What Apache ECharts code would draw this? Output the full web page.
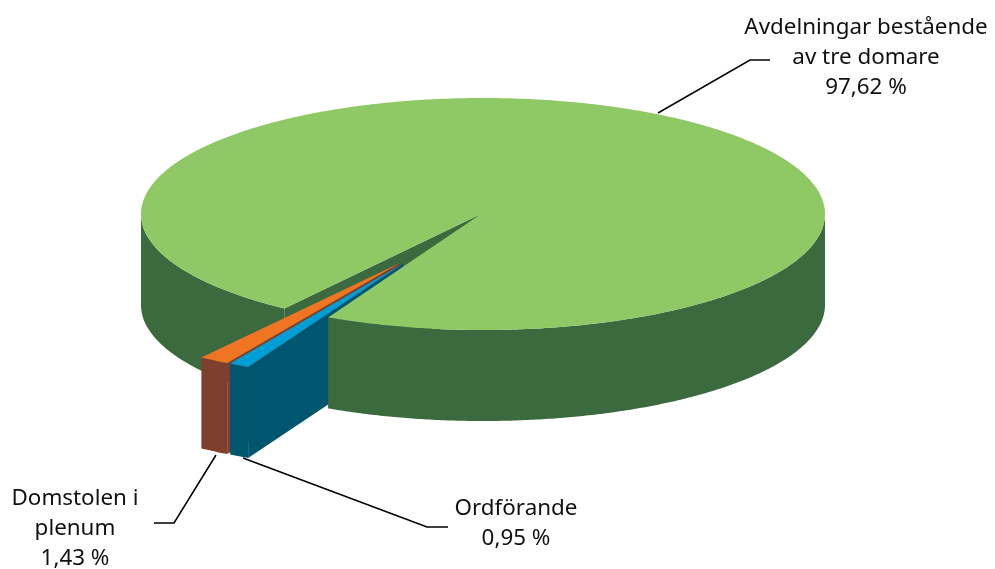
<!DOCTYPE html>
<html>
<head>
<meta charset="utf-8">
<style>html,body{margin:0;padding:0;background:#fff}#c{width:995px;height:569px}</style>
<script src="https://cdn.jsdelivr.net/npm/echarts@6/dist/echarts.min.js"></script>
</head>
<body>
<div id="c"></div>
<script>
// Data
const sliceNames = ['Avdelningar bestående\nav tre domare', 'Ordförande', 'Domstolen i\nplenum'];
const sliceValues = [97.62, 0.95, 1.43];
// Style
const topColors = ['#8fc965', '#009ed6', '#f07522'];
const sideColors = ['#3b6a3f', '#00556f', '#7e3f2c'];
const explodeOffsets = [[0, 0], [-80, 49.5], [-83, 49]];
const apexShift = [-2, 0, 0];
const wallLayer = [1, 7, 5];
const labelCentres = [[866, 28], [516, 509], [75, 499]];
const leaders = [
  [[658, 113], [750, 60], [770, 60]],
  [[243, 458], [427, 527], [448, 527]],
  [[216, 455], [174, 523], [154, 523]]
];
// Pie geometry
const CX = 483, CY = 214, RX = 342, RY = 116, DEPTH = 91, START = 125.5;
const FONT = '"Noto Sans", "Open Sans", sans-serif';

const total = sliceValues.reduce((a, b) => a + b, 0);
const starts = [];
sliceValues.reduce((acc, v, i) => { starts[i] = acc; return acc + v / total * 360; }, START);

function pt(deg, off, drop) {
  const r = deg * Math.PI / 180;
  return [CX + off[0] + RX * Math.cos(r), CY + off[1] + RY * Math.sin(r) + (drop || 0)];
}
function arc(a0, a1, off, drop) {
  const out = [], n = Math.max(2, Math.ceil((a1 - a0) * 2));
  for (let i = 0; i <= n; i++) out.push(pt(a0 + (a1 - a0) * i / n, off, drop));
  return out;
}
function wallPiece(a0, a1, off, fill, z2) {
  const top = arc(a0, a1, off, 0), bottom = arc(a0, a1, off, DEPTH).reverse();
  return { type: 'polygon', z2, shape: { points: top.concat(bottom) }, style: { fill }, silent: true };
}
function renderSlice(params, api) {
  const i = params.dataIndex;
  const sweep = api.value(0) / total * 360;
  const a0 = starts[i], a1 = a0 + sweep;
  const off = explodeOffsets[i], side = sideColors[i], layer = wallLayer[i];
  const apex = [CX + off[0] + apexShift[i], CY + off[1]];
  const startEdge = pt(a0, off, 0);
  const children = [];
  // the cut face at the start of the slice
  children.push({
    type: 'polygon', z2: layer,
    shape: { points: [apex, startEdge, [startEdge[0], startEdge[1] + DEPTH], [apex[0], apex[1] + DEPTH]] },
    style: { fill: side }, silent: true
  });
  // the outer rim, only where it faces the viewer (sine of angle > 0);
  // the part right of the gap hides the small slices, the part left of it lies behind them
  for (let k = 0; k < 3; k++) {
    const lo = Math.max(a0, k * 360), hi = Math.min(a1, k * 360 + 180);
    if (hi > lo) children.push(wallPiece(lo, hi, off, side, i === 0 ? (k === 0 ? 0 : 20) : layer));
  }
  // top face
  children.push({
    type: 'polygon', z2: i === 0 ? 21 : layer + 1,
    shape: { points: [apex].concat(arc(a0, a1, off, 0)) },
    style: { fill: topColors[i] }, silent: true
  });
  return { type: 'group', children };
}

const chart = echarts.init(document.getElementById('c'), null, { renderer: 'canvas' });
const graphics = [];
leaders.forEach(points => graphics.push({
  type: 'polyline', z: 30, shape: { points },
  style: { stroke: '#000', lineWidth: 1.5, fill: null }, silent: true
}));
sliceNames.forEach((name, i) => graphics.push({
  type: 'text', z: 30, x: labelCentres[i][0], y: labelCentres[i][1] - 15, silent: true,
  style: {
    text: name + '\n' + sliceValues[i].toFixed(2).replace('.', ',') + ' %',
    font: '22.4px ' + FONT, fill: '#111', align: 'center', verticalAlign: 'top', lineHeight: 30
  }
}));

chart.setOption({
  animation: false,
  backgroundColor: '#fff',
  series: [{
    type: 'custom',
    coordinateSystem: 'none',
    renderItem: renderSlice,
    data: sliceValues.map(v => [v]),
    silent: true
  }],
  graphic: graphics
});
</script>
</body>
</html>
